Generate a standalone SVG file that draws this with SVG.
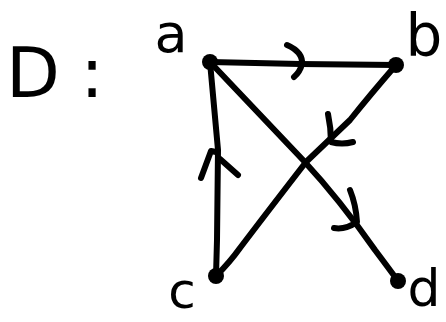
<svg xmlns="http://www.w3.org/2000/svg" width="446" height="322" viewBox="0 0 446 322">
<style>
.e{fill:none;stroke:#000;stroke-width:6;stroke-linecap:round;stroke-linejoin:round}
.n{fill:#000}
.t{font-family:"DejaVu Sans",sans-serif;fill:#000;text-anchor:middle}
</style>
<rect width="446" height="322" fill="#fff"/>
<text class="t" x="33" y="97" font-size="70">D<tspan x="92">:</tspan></text>
<g id="edges">
<path class="e" d="M210,62 L300,64 L396,65"/>
<path class="e" d="M287,45 Q303,52 302,64 Q300,72 294,77"/>
<path class="e" d="M210,62 L303,160 Q340,200 375,250 Q390,270 398,281"/>
<path class="e" d="M350,190 Q356,205 357,222 Q345,230 334,228"/>
<path class="e" d="M396,65 Q370,95 350,120 L306,162 Q265,215 240,248 Q230,262 216,276"/>
<path class="e" d="M328,114 Q331,128 331,142 Q342,145 353,142"/>
<path class="e" d="M216,276 L217,240 L218,150 L210,62"/>
<path class="e" d="M201,178 L211,151 L216,152 M220,159 L238,175"/>
</g>
<g id="a"><circle class="n" cx="210" cy="62" r="8"/><text class="t" x="171" y="52" font-size="54">a</text></g>
<g id="b"><circle class="n" cx="396" cy="65" r="8"/><text class="t" x="424" y="56" font-size="58">b</text></g>
<g id="c"><circle class="n" cx="216" cy="276" r="8"/><text class="t" x="182" y="308" font-size="50">c</text></g>
<g id="d"><circle class="n" cx="398" cy="281" r="8"/><text class="t" x="424" y="306" font-size="52">d</text></g>
</svg>
